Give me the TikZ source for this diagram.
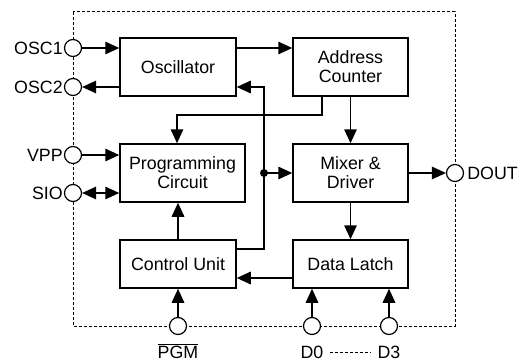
\documentclass[tikz,border=0pt]{standalone}
\usepackage{fontspec}
\setmainfont{Liberation Sans}
\usetikzlibrary{arrows.meta}
\begin{document}
\begin{tikzpicture}[x=1pt,y=-1pt,
  txt/.style={font=\fontsize{17.8}{19}\selectfont},
  blk/.style={txt, draw, line width=1.5pt, inner sep=0pt, align=center},
  pin/.style={circle, draw, fill=white, line width=1.2pt, minimum size=17pt, inner sep=0pt},
  wire/.style={line width=1.5pt},
  arr/.style={wire, -{Triangle[length=14pt,width=12.5pt]}},
  frame/.style={line width=1pt, dash pattern=on 3pt off 2pt}]
\useasboundingbox (0,0) rectangle (522,361);
% frame
\draw[frame] (73,12) rectangle (455,326);
% blocks
\node[blk, minimum width=116pt, minimum height=58pt] (osc) at (178,67) {Oscillator};
\node[blk, minimum width=115pt, minimum height=58pt] (addr) at (350.5,67) {Address\\Counter};
\node[blk, minimum width=125pt, minimum height=58pt] (prog) at (182.5,173) {Programming\\Circuit};
\node[blk, minimum width=115pt, minimum height=58pt] (mix) at (350.5,173) {Mixer \&\\Driver};
\node[blk, minimum width=116pt, minimum height=48pt] (ctrl) at (178,264) {Control Unit};
\node[blk, minimum width=115pt, minimum height=48pt] (latch) at (350.5,264) {Data Latch};
% pins
\node[pin] (osc1) at (73,48) {};
\node[pin] (osc2) at (73,87) {};
\node[pin] (vpp) at (73,155) {};
\node[pin] (sio) at (73,193) {};
\node[pin] (dout) at (455,173) {};
\node[pin] (pgm) at (178,326) {};
\node[pin] (d0) at (312,326) {};
\node[pin] (d3) at (389,326) {};
% labels
\node[txt, anchor=east, inner sep=1pt] (losc1) at (osc1.west) {OSC1};
\node[txt, anchor=east, inner sep=1pt] (losc2) at (osc2.west) {OSC2};
\node[txt, anchor=east, inner sep=1pt] (lvpp) at (vpp.west) {VPP};
\node[txt, anchor=east, inner sep=1pt] (lsio) at (sio.west) {SIO};
\node[txt, anchor=west, inner sep=3pt] (ldout) at (dout.east) {DOUT};
\node[txt, inner sep=0pt] (lpgm) at (178,351) {$\overline{\mbox{PGM}}$};
\node[txt, inner sep=0pt] (ld0) at (312,352) {D0};
\node[txt, inner sep=0pt] (ld3) at (389,352) {D3};
\draw[line width=0.9pt, dash pattern=on 3pt off 2pt] ([xshift=6pt]ld0.east) -- ([xshift=-6pt]ld3.west);
% connectors
\draw[arr] (osc1) -- (osc1 -| osc.west);
\draw[arr] (osc2 -| osc.west) -- (osc2);
\draw[arr] (vpp) -- (vpp -| prog.west);
\draw[wire, {Triangle[length=14pt,width=12.5pt]}-{Triangle[length=14pt,width=12.5pt]}] (sio) -- (sio -| prog.west);
\draw[arr] (osc.east |- osc1) -- (addr.west |- osc1);
\draw[arr] (addr.south) -- (mix.north);
\draw[arr] ([xshift=-28.5pt]addr.south) -- ++(0,18) -| ([xshift=-5.5pt]prog.north);
\coordinate (jn) at (264,173);
\draw[arr] (ctrl.east |- 0,249) -| (264,87) -- (osc.east |- 0,87);
\fill (jn) circle (4pt);
\draw[arr] (jn) -- (mix.west);
\draw[arr] (mix.east) -- (dout);
\draw[arr] (mix.south) -- (latch.north);
\draw[arr] (latch.west |- 0,278) -- (ctrl.east |- 0,278);
\draw[arr] (ctrl.north) -- (prog.south -| ctrl.north);
\draw[arr] (pgm) -- (ctrl.south);
\draw[arr] (d0) -- (d0 |- latch.south);
\draw[arr] (d3) -- (d3 |- latch.south);
\end{tikzpicture}
\end{document}
